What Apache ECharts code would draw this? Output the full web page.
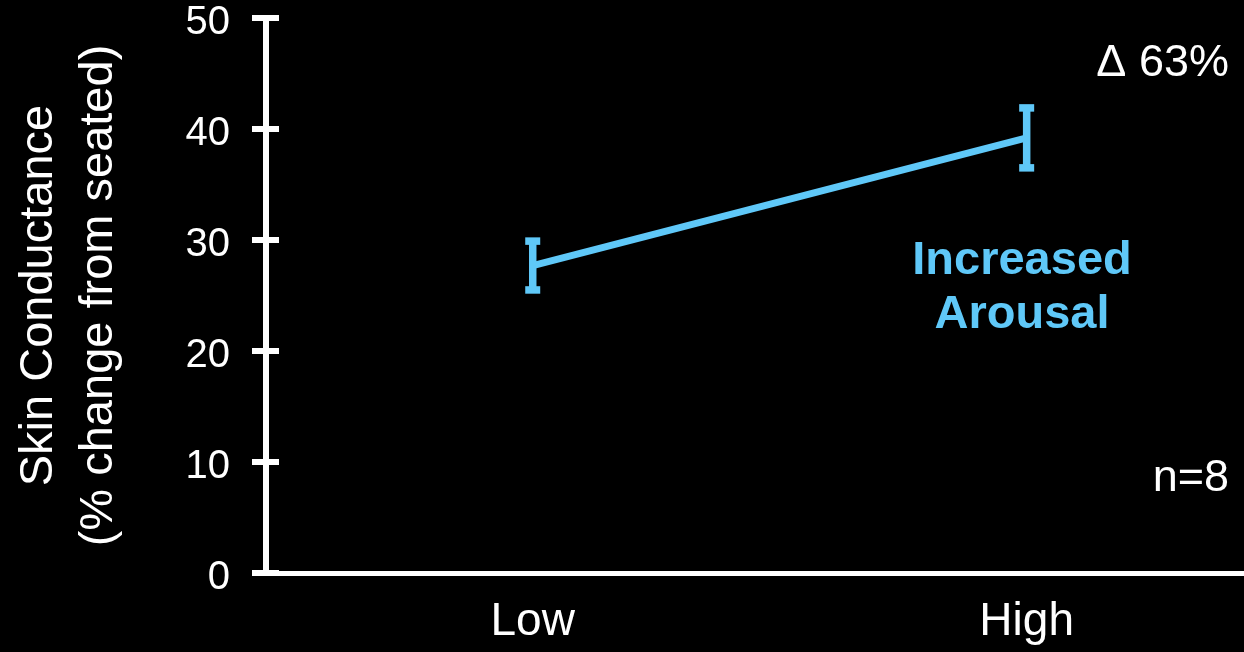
<!DOCTYPE html>
<html>
<head>
<meta charset="utf-8">
<script src="https://cdn.jsdelivr.net/npm/echarts@6/dist/echarts.min.js"></script>
<style>
  html, body { margin: 0; padding: 0; background: #000; }
  #chart { width: 1244px; height: 652px; }
</style>
</head>
<body>
<div id="chart"></div>
<script>
// Arousal level conditions
const categories = ['Low', 'High'];
// Mean skin conductance (% change from seated) and error half-widths
const meanValues = [27.7, 39.2];
const errorValues = [2.2, 2.7];
// Y axis ticks
const yTicks = [0, 10, 20, 30, 40, 50];

const BLUE = '#5fc8f8';
const FONT = '"Liberation Sans", Arial, Helvetica, sans-serif';

const lineData = meanValues.map((m, i) => [i, m]);
const errData = meanValues.map((m, i) => [i, m - errorValues[i], m + errorValues[i]]);

const chart = echarts.init(document.getElementById('chart'));

const yBase = {
  type: 'value',
  min: yTicks[0],
  max: yTicks[yTicks.length - 1],
  interval: yTicks[1] - yTicks[0],
  position: 'left',
  splitLine: { show: false }
};

chart.setOption({
  backgroundColor: '#000',
  animation: false,
  grid: { left: 266, right: 0, top: 18, bottom: 79 },
  xAxis: {
    type: 'value',
    min: -0.54,
    max: 1.44,
    axisLine: { show: true, onZero: false, lineStyle: { color: '#fff', width: 5 } },
    axisTick: { show: false },
    splitLine: { show: false },
    axisLabel: {
      customValues: categories.map((c, i) => i),
      formatter: v => categories[Math.round(v)] || '',
      color: '#fff',
      fontFamily: FONT,
      fontSize: 46,
      margin: 26
    }
  },
  yAxis: [
    Object.assign({}, yBase, {
      axisLine: { show: true, onZero: false, lineStyle: { color: '#fff', width: 6 } },
      axisTick: { show: true, inside: false, length: 14, lineStyle: { color: '#fff', width: 6 } },
      axisLabel: {
        color: '#fff', fontFamily: FONT, fontSize: 40, margin: 36,
        verticalAlign: 'top', lineHeight: 10
      },
      name: 'Skin Conductance\n(% change from seated)',
      nameLocation: 'middle',
      nameGap: 137,
      nameTextStyle: { color: '#fff', fontFamily: FONT, fontSize: 47, lineHeight: 60 }
    }),
    Object.assign({}, yBase, {
      axisLine: { show: false, onZero: false },
      axisTick: { show: true, inside: true, length: 13, lineStyle: { color: '#fff', width: 6 } },
      axisLabel: { show: false }
    })
  ],
  series: [
    {
      type: 'line',
      yAxisIndex: 0,
      data: lineData,
      symbol: 'none',
      lineStyle: { color: BLUE, width: 7 },
      z: 3
    },
    {
      type: 'custom',
      yAxisIndex: 0,
      data: errData,
      z: 4,
      renderItem(params, api) {
        const x = api.value(0);
        const lo = api.coord([x, api.value(1)]);
        const hi = api.coord([x, api.value(2)]);
        const half = 7.5;
        const style = { stroke: BLUE, lineWidth: 7.5 };
        return {
          type: 'group',
          children: [
            { type: 'line', shape: { x1: lo[0], y1: lo[1], x2: hi[0], y2: hi[1] }, style },
            { type: 'line', shape: { x1: lo[0] - half, y1: lo[1], x2: lo[0] + half, y2: lo[1] }, style },
            { type: 'line', shape: { x1: hi[0] - half, y1: hi[1], x2: hi[0] + half, y2: hi[1] }, style }
          ]
        };
      }
    }
  ],
  graphic: [
    {
      type: 'text', right: 15, top: 41,
      style: { text: 'Δ 63%', fill: '#fff', font: '45px ' + FONT, textAlign: 'right' }
    },
    {
      type: 'text', right: 15, top: 456,
      style: { text: 'n=8', fill: '#fff', font: '45px ' + FONT, textAlign: 'right' }
    },
    {
      type: 'text', x: 1022, y: 234,
      style: {
        text: 'Increased\nArousal', fill: BLUE, font: 'bold 47px ' + FONT,
        lineHeight: 54, textAlign: 'center'
      }
    }
  ]
});
</script>
</body>
</html>
